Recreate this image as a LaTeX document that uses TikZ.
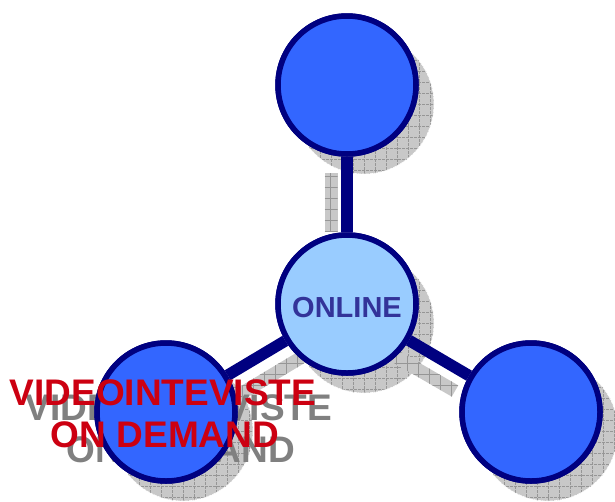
\documentclass[tikz,border=0pt]{standalone}
\usepackage{fontspec}
\setmainfont{Liberation Sans}
\usetikzlibrary{calc}
\definecolor{navy}{RGB}{0,0,128}
\definecolor{bblue}{RGB}{51,102,255}
\definecolor{lblue}{RGB}{153,204,255}
\definecolor{tred}{RGB}{204,0,17}
\definecolor{tblue}{RGB}{51,51,153}
\definecolor{tgrey}{RGB}{128,128,128}
\definecolor{shfill}{RGB}{200,200,200}
\definecolor{shgrid}{RGB}{150,150,150}
\tikzset{
  hatch/.style={fill=shfill, path picture={\draw[shgrid,line width=0.6pt,step=11pt] (path picture bounding box.south west) grid (path picture bounding box.north east);}},
  shcircle/.style={circle, minimum size=140pt, inner sep=0pt, hatch, draw=white, line width=0.6pt, dash pattern=on 3pt off 1pt},
  bigcircle/.style={circle, minimum size=138pt, inner sep=0pt, draw=navy, line width=5.5pt, fill=bblue},
  midcircle/.style={bigcircle, fill=lblue},
  conn/.style={draw=navy, line width=11.5pt},
  redtxt/.style={font=\bfseries\fontsize{37}{41}\selectfont, text=tred, anchor=base, inner sep=0pt},
  greytxt/.style={redtxt, text=tgrey},
  onltxt/.style={font=\bfseries\fontsize{29}{33}\selectfont, text=tblue, anchor=base, inner sep=0pt}
}
\begin{document}
\begin{tikzpicture}[x=1pt,y=-1pt]
\useasboundingbox (0,0) rectangle (615,501);
% shadow coordinates
\coordinate (vs1) at (331,173);
\coordinate (vs2) at (331,232);
\coordinate (rs1) at (393,355);
\coordinate (rs2) at (455,391);
\coordinate (ls1) at (302,357);
\coordinate (ls2) at (222,405);
% circle shadows
\node[shcircle] (tops) at (364,104) {};
\node[shcircle] (mids) at (364,323) {};
\node[shcircle] (lefts) at (183,431) {};
\node[shcircle] (rights) at (548,431) {};
% connector shadows
\path[hatch] (324.5,173) rectangle (337.5,232);
\path[hatch] ($(rs1)!6.5pt!90:(rs2)$) -- ($(rs2)!6.5pt!-90:(rs1)$) -- ($(rs2)!6.5pt!90:(rs1)$) -- ($(rs1)!6.5pt!-90:(rs2)$) -- cycle;
\path[hatch] ($(ls1)!6.5pt!90:(ls2)$) -- ($(ls2)!6.5pt!-90:(ls1)$) -- ($(ls2)!6.5pt!90:(ls1)$) -- ($(ls1)!6.5pt!-90:(ls2)$) -- cycle;
% text shadow (under the circles)
\node[greytxt] (g1) at (179,420) {VIDEOINTEVISTE};
\node[greytxt] (g2) at (181,462) {ON DEMAND};
% circles
\node[bigcircle] (top) at (347,85) {};
\node[midcircle] (mid) at (347,304) {};
\node[bigcircle] (left) at (166,412) {};
\node[bigcircle] (right) at (531,412) {};
% connectors
\path[conn] (top) -- (mid);
\path[conn] (mid) -- (left);
\path[conn] (mid) -- (right);
% redraw circles over connectors
\node[bigcircle] (top2) at (347,85) {};
\node[midcircle] (mid2) at (347,304) {};
\node[bigcircle] (left2) at (166,412) {};
\node[bigcircle] (right2) at (531,412) {};
% labels
\node[onltxt] (onl) at (347,317) {ONLINE};
\node[redtxt] (r1) at (163,405) {VIDEOINTEVISTE};
\node[redtxt] (r2) at (165,447) {ON DEMAND};
\end{tikzpicture}
\end{document}
